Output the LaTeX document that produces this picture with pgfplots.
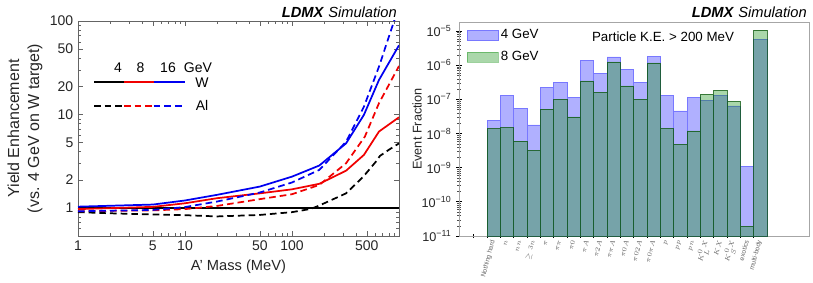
\documentclass[border=0pt]{standalone}
\usepackage{fontspec}
\setmainfont{Liberation Sans}
\usepackage{pgfplots}
\pgfplotsset{compat=1.18}
\definecolor{bbar}{RGB}{176,176,255}
\definecolor{bedge}{RGB}{120,120,255}
\definecolor{gbar}{RGB}{11,140,11}
\definecolor{frameL}{RGB}{100,100,100}
\definecolor{myred}{RGB}{240,0,0}
\definecolor{myblue}{RGB}{0,0,240}
\begin{document}
\begin{tikzpicture}
\useasboundingbox (0,0) rectangle (609.75pt,211.5pt);
% ---------------- left panel ----------------
\begin{axis}[
  at={(58.5pt,34.5pt)}, anchor=south west, scale only axis,
  width=240.75pt, height=161.25pt,
  xmode=log, ymode=log, xmin=1, xmax=1000, ymin=0.5, ymax=100,
  xtick={1,5,10,50,100,500}, xticklabels={1,5,10,50,100,500},
  minor xtick={2,3,4,6,7,8,9,20,30,40,60,70,80,90,200,300,400,600,700,800,900},
  ytick={1,2,5,10,20,50,100}, yticklabels={1,2,5,10,20,50,100},
  minor ytick={0.6,0.7,0.8,0.9,3,4,6,7,8,9,30,40,60,70,80,90},
  axis line style={frameL}, tick style={frameL}, major tick length=4pt, minor tick length=2pt,
  tick label style={font=\fontsize{10.5}{12}\selectfont, text=black!85},
  xlabel={A' Mass (MeV)},
  ylabel={Yield Enhancement\\(vs. 4 GeV on W target)},
  xlabel style={font=\fontsize{11}{13}\selectfont, text=black!85, at={(axis description cs:0.5,-0.145)}, anchor=center},
  ylabel style={font=\fontsize{12}{15}\selectfont, text=black!85, align=center, at={(axis description cs:-0.165,0.5)}, anchor=center},
  clip=true,
]
\addplot[black, line width=1.3pt] coordinates {(1,1) (1000,1)};
\addplot[black, line width=1.3pt, dash pattern=on 5pt off 3pt] coordinates {
(1,0.90) (2,0.875) (5,0.85) (10,0.835) (20,0.81) (50,0.84) (100,0.90) (150,0.975) (180,1.06) (320,1.43) (464,2.16) (609,3.13) (664,3.6) (800,4.17) (1000,4.9)};
\addplot[myred, line width=1.3pt] coordinates {
(1,0.97) (5,1.025) (10,1.12) (20,1.27) (50,1.43) (100,1.58) (180,1.81) (320,2.5) (470,3.69) (650,6.56) (1000,9.33)};
\addplot[myred, line width=1.3pt, dash pattern=on 5pt off 3pt] coordinates {
(1,0.92) (5,0.94) (10,0.97) (20,1.05) (50,1.24) (100,1.40) (180,1.76) (320,3.0) (480,5.8) (650,13.2) (1000,33)};
\addplot[myblue, line width=1.3pt] coordinates {
(1,1.03) (5,1.085) (10,1.2) (20,1.38) (50,1.69) (100,2.16) (180,2.84) (320,4.9) (470,9.9) (650,23.4) (1000,55)};
\addplot[myblue, line width=1.3pt, dash pattern=on 5pt off 3pt] coordinates {
(1,0.92) (5,0.95) (10,1.02) (20,1.17) (50,1.46) (100,1.87) (180,2.55) (320,5.1) (470,12.1) (650,32.5) (900,100) (1000,142)};
\end{axis}
% ---------------- right panel ----------------
\begin{axis}[
  at={(344.25pt,34.5pt)}, anchor=south west, scale only axis,
  width=262.5pt, height=160.5pt,
  ymode=log, log origin=infty, ymin=1e-11, ymax=1.85e-5,
  xmin=-2.6, xmax=23.65,
  tick pos=left, tick align=center,
  axis line style={black!35},
  xtick={0,...,20},
  xticklabels={Nothing hard,$n$,$nn$,$\geq 3n$,$\pi$,$\pi\pi$,$\pi0$,$\pi A$,$\pi 2A$,$\pi\pi A$,$\pi 0A$,$\pi 02A$,$\pi 0\pi A$,$p$,$pp$,$pn$,$K^0_LX$,$KX$,$K^0_SX$,exotics,multi-body},
  major x tick style={draw=none},
  minor xtick={-1.5,-0.5,...,19.5},
  minor x tick style={black, line width=0.6pt},
  minor tick length=2.5pt,
  xticklabel style={font=\fontsize{5}{5.5}\selectfont, text=black!60, rotate=75, anchor=east, inner sep=1pt},
  ytick={1e-11,1e-10,1e-9,1e-8,1e-7,1e-6,1e-5},
  yticklabel={\pgfmathtruncatemacro\e{round(-\tick/2.302585)}10\textsuperscript{−\e}},
  minor ytick={2e-11,3e-11,4e-11,5e-11,6e-11,7e-11,8e-11,9e-11,
    2e-10,3e-10,4e-10,5e-10,6e-10,7e-10,8e-10,9e-10,
    2e-9,3e-9,4e-9,5e-9,6e-9,7e-9,8e-9,9e-9,
    2e-8,3e-8,4e-8,5e-8,6e-8,7e-8,8e-8,9e-8,
    2e-7,3e-7,4e-7,5e-7,6e-7,7e-7,8e-7,9e-7,
    2e-6,3e-6,4e-6,5e-6,6e-6,7e-6,8e-6,9e-6},
  minor y tick style={black!70, line width=0.3pt},
  major y tick style={black, line width=0.6pt},
  yticklabel style={font=\fontsize{9.5}{11}\selectfont, text=black!85},
  ylabel={Event Fraction},
  ylabel style={font=\fontsize{9.5}{11}\selectfont, text=black!85, at={(axis description cs:-0.12,0.5)}, anchor=center},
  legend style={at={(axis description cs:0.018,0.985)}, anchor=north west, draw=none, fill=none,
    font=\fontsize{10}{12}\selectfont, row sep=4pt, inner sep=1pt},
  legend cell align=left,
]
\addplot[ybar, bar width=1, bar shift=0pt, fill=bbar, draw=bedge,
  legend image code/.code={\draw[fill=bbar, draw=bedge] (0pt,-3.7pt) rectangle (23pt,3.7pt);}] coordinates {
(0,2.4e-8) (1,1.3e-7) (2,5.6e-8) (3,1.8e-8) (4,2.3e-7) (5,3.1e-7) (6,1.17e-7) (7,1.4e-6) (8,5.9e-7) (9,1.77e-6) (10,7.6e-7)
(11,3.2e-7) (12,1.85e-6) (13,1.28e-7) (14,4.6e-8) (15,1.12e-7) (16,9.5e-8) (17,1.3e-7) (18,6.5e-8) (19,1.07e-9) (20,5.6e-6)};
\addlegendentry{4 GeV}
\addplot[ybar, bar width=1, bar shift=0pt, fill=gbar, fill opacity=0.35, draw=gbar!60!black, draw opacity=0.75,
  legend image code/.code={\draw[fill=gbar, fill opacity=0.35, draw=gbar, draw opacity=0.4] (0pt,-3.7pt) rectangle (23pt,3.7pt);}] coordinates {
(0,1.4e-8) (1,1.5e-8) (2,6e-9) (3,3.2e-9) (4,5.2e-8) (5,1.0e-7) (6,3.1e-8) (7,3.5e-7) (8,1.6e-7) (9,1.26e-6) (10,2.5e-7)
(11,1.0e-7) (12,1.17e-6) (13,1.4e-8) (14,4.8e-9) (15,1.2e-8) (16,1.4e-7) (17,1.85e-7) (18,8.7e-8) (19,1.9e-11) (20,1.07e-5)};
\addlegendentry{8 GeV}
\end{axis}
% ---------------- annotations (pixel coordinates) ----------------
\begin{scope}[x=0.75pt, y=-0.75pt, yshift=211.5pt]
  \node[anchor=east, inner sep=0pt, font=\fontsize{11}{13}\selectfont] at (397,12) {\textbf{\textit{LDMX}} \textit{Simulation}};
  \node[anchor=east, inner sep=0pt, font=\fontsize{11}{13}\selectfont] at (807,12) {\textbf{\textit{LDMX}} \textit{Simulation}};
  \node[inner sep=0pt, font=\fontsize{10}{12}\selectfont] at (663,37) {Particle K.E. > 200 MeV};
  \begin{scope}[font=\fontsize{10.5}{12}\selectfont, inner sep=0pt]
    \node at (118,68) {4};
    \node at (140.5,68) {8};
    \node at (168,68) {16};
    \node at (198,68) {GeV};
    \node at (202,82.3) {W};
    \node at (202,105.7) {Al};
  \end{scope}
  \draw[black, line width=1.3pt] (94,82.3) -- (124,82.3);
  \draw[myred, line width=1.3pt] (124,82.3) -- (153.5,82.3);
  \draw[myblue, line width=1.3pt] (153.5,82.3) -- (185,82.3);
  \draw[black, line width=1.3pt, dash pattern=on 5pt off 3pt] (94,105.7) -- (124,105.7);
  \draw[myred, line width=1.3pt, dash pattern=on 5pt off 3pt] (124,105.7) -- (153.5,105.7);
  \draw[myblue, line width=1.3pt, dash pattern=on 5pt off 3pt] (153.5,105.7) -- (185,105.7);
\end{scope}
\end{tikzpicture}
\end{document}
